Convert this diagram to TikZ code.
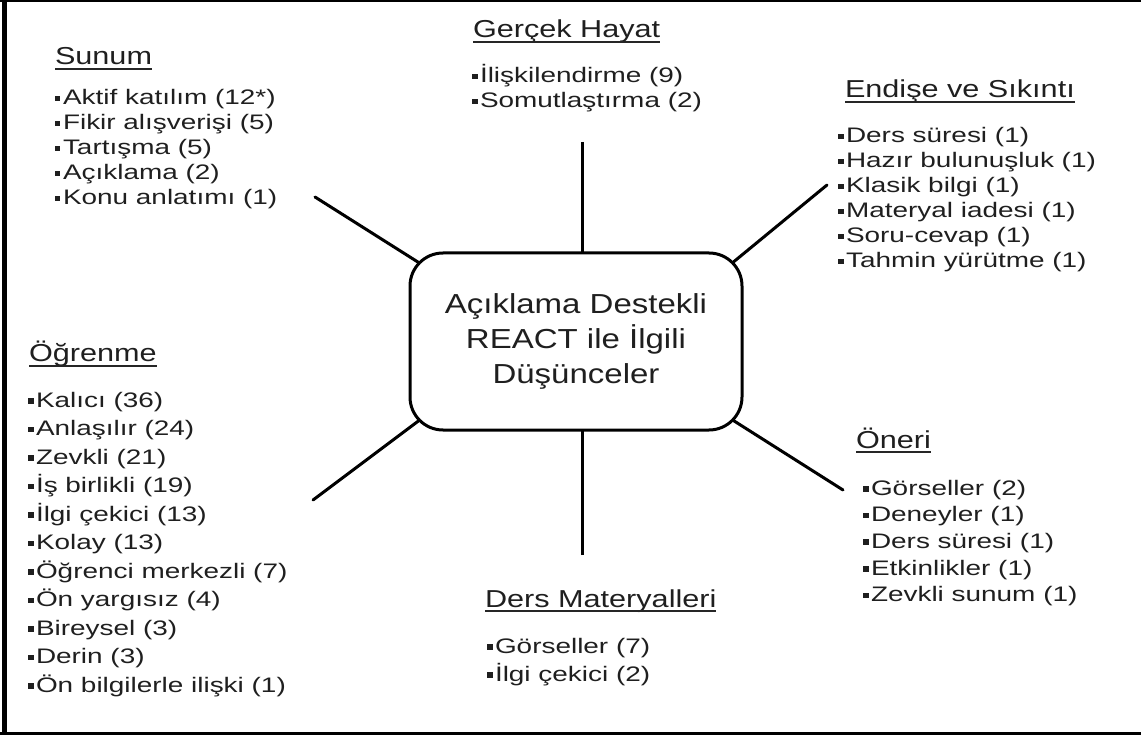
\documentclass[tikz,border=0pt]{standalone}
\usepackage{fontspec}
\setmainfont{Liberation Sans}
\newfontfamily\itemf[FakeStretch=1.33]{Liberation Sans}
\newfontfamily\headf[FakeStretch=1.25]{Liberation Sans}
\newfontfamily\centf[FakeStretch=1.2]{Liberation Sans}
\usetikzlibrary{calc}
\pgfdeclarelayer{bg}
\pgfsetlayers{bg,main}
\newcommand\bul{\rule[3.5pt]{5.5pt}{5.5pt}\hspace{2.5pt}}
\begin{document}
\begin{tikzpicture}[x=1pt,y=-1pt,
  itemtext/.style={anchor=base west,inner sep=0pt,outer sep=0pt,text=black!88,font=\itemf\fontsize{21}{25}\selectfont},
  headtext/.style={anchor=base west,inner sep=0pt,outer sep=0pt,text=black!88,font=\headf\fontsize{24.5}{29}\selectfont},
  uline/.style={line width=1.8pt,black!85},
  spoke/.style={line width=3pt},
  centbox/.style={draw,line width=3pt,rounded corners=33pt,fill=white,outer sep=0pt,
    minimum width=332pt,minimum height=177pt,align=center,text=black!88,
    font=\centf\fontsize{27.5}{35}\selectfont}
]
\useasboundingbox (0,0) rectangle (1141,735);
% frame
\fill (2.3,0) rectangle (6.7,735);
\fill (0,0) rectangle (1141,2.2);
\fill (0,732) rectangle (1141,735);

% centre
\node[centbox] (box) at (576,341.5) {Açıklama Destekli\\REACT ile İlgili\\Düşünceler};

% spoke ends
\coordinate (p1) at (315,197);
\coordinate (p2) at (582,142);
\coordinate (p3) at (827,185);
\coordinate (p4) at (313,500);
\coordinate (p5) at (843,490);
\coordinate (p6) at (582,555);

\begin{pgfonlayer}{bg}
\draw[spoke,line cap=round] (p1) -- ($(box.north west)+(11,11)$);
\draw[spoke] (p2) -- (p2 |- box.center);
\draw[spoke,line cap=round] (p3) -- ($(box.north east)+(-11,11)$);
\draw[spoke,line cap=round] (p4) -- ($(box.south west)+(11,-11)$);
\draw[spoke,line cap=round] (p5) -- ($(box.south east)+(-11,-11)$);
\draw[spoke] (p6) -- (p6 |- box.center);
\end{pgfonlayer}

% Sunum
\node[headtext] (hS) at (55,65) {Sunum};
\foreach \t [count=\i from 0] in {{Aktif katılım (12*)},{Fikir alışverişi (5)},{Tartışma (5)},{Açıklama (2)},{Konu anlatımı\ (1)}}
  \node[itemtext] (s\i) at (55,{105+25*\i}) {\bul\t};

% Gercek Hayat
\node[headtext] (hG) at (473,38) {Gerçek Hayat};
\foreach \t [count=\i from 0] in {{İlişkilendirme (9)},{Somutlaştırma (2)}}
  \node[itemtext] (g\i) at (472,{83+25*\i}) {\bul\t};

% Endise
\node[headtext] (hE) at (845,98) {Endişe ve Sıkıntı};
\foreach \t [count=\i from 0] in {{Ders süresi (1)},{Hazır bulunuşluk (1)},{Klasik bilgi (1)},{Materyal iadesi (1)},{Soru-cevap (1)},{Tahmin yürütme (1)}}
  \node[itemtext] (e\i) at (838,{143+25*\i}) {\bul\t};

% Ogrenme
\node[headtext] (hO) at (29,362) {Öğrenme};
\foreach \t [count=\i from 0] in {{Kalıcı (36)},{Anlaşılır (24)},{Zevkli (21)},{İş birlikli (19)},{İlgi çekici (13)},{Kolay (13)},{Öğrenci merkezli\ (7)},{Ön yargısız\ (4)},{Bireysel (3)},{Derin (3)},{Ön bilgilerle ilişki (1)}}
  \node[itemtext] (o\i) at (28,{407+28.5*\i}) {\bul\t};

% Oneri
\node[headtext] (hN) at (856,448) {Öneri};
\foreach \t [count=\i from 0] in {{Görseller (2)},{Deneyler (1)},{Ders süresi (1)},{Etkinlikler (1)},{Zevkli sunum (1)}}
  \node[itemtext] (n\i) at (863,{495+26.7*\i}) {\bul\t};

% Ders Materyalleri
\node[headtext] (hD) at (485,607) {Ders Materyalleri};
\foreach \t [count=\i from 0] in {{Görseller (7)},{İlgi çekici (2)}}
  \node[itemtext] (d\i) at (487,{653+28*\i}) {\bul\t};

% underlines
\foreach \h in {hS,hG,hE,hO,hN,hD}
  \draw[uline] ([yshift=-4pt]\h.base west) -- ([yshift=-4pt]\h.base east);
\end{tikzpicture}
\end{document}
